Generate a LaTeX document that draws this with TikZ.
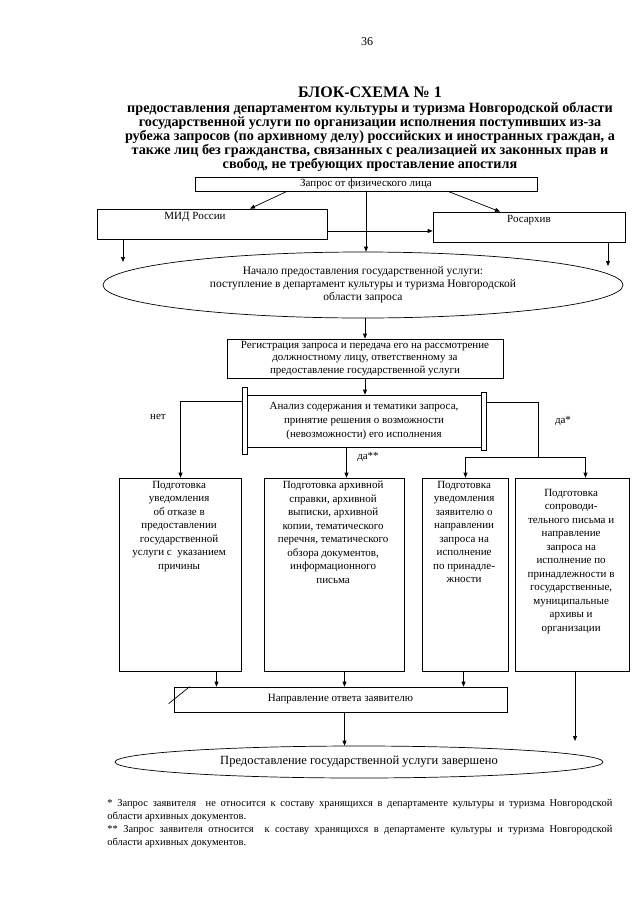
\documentclass[tikz,border=0pt]{standalone}
\usepackage{fontspec}
\setmainfont{Liberation Serif}
\usetikzlibrary{shapes.geometric,arrows.meta,positioning}
\newcommand{\topbox}[3]{\parbox[t][#2][t]{#1}{\centering\vspace*{3pt}#3}}

\begin{document}
\begin{tikzpicture}
    [
      x=1pt,
      y=-1pt,
      line width=0.7pt,
      >={Triangle[length=5pt,width=4pt]},
      blk/.style=
      {
        draw,
        inner sep=0pt,
        align=center,
        font=\fontsize{11}{13.5}\selectfont
      },
      txt/.style=
      {
        inner sep=0pt,
        align=center,
        font=\fontsize{11}{13.5}\selectfont
      },
      oval/.style=
      {
        draw,
        ellipse,
        inner sep=0pt,
        align=center,
        font=\fontsize{11.5}{13}\selectfont
      },
      sidebar/.style=
      {
        draw,
        fill=white,
        inner sep=0pt,
        minimum width=5pt
      },
      head/.style=
      {
        align=center,
        inner sep=0pt,
        font=\fontsize{14.2}{14}\selectfont\bfseries
      }
    ]
    \useasboundingbox (0,0) rectangle (640,905);

    %title here
    \node[txt, font=\fontsize{12}{14}\selectfont](PageNum) at (367,42) {36};
    \node[head, font=\fontsize{16}{16}\selectfont\bfseries](TheTitle) at (370,92) {БЛОК-СХЕМА № 1};
    \node[head, anchor=north](TheSubtitle) at (370,102)
    {
      предоставления департаментом культуры и туризма Новгородской области\\
      государственной услуги по организации исполнения поступивших из-за\\
      рубежа запросов (по архивному делу) российских и иностранных граждан, а\\
      также лиц без гражданства, связанных с реализацией их законных прав и\\
      свобод, не требующих проставление апостиля
    };

    %request
    \node[blk, minimum width=342pt, minimum height=14pt](Request) at (366,184)
    {Запрос от физического лица};
    \node[blk](Mid) at (212,224) {\topbox{230pt}{30pt}{МИД России\hspace*{34pt}}};
    \node[blk](Rosarkhiv) at (529,227) {\topbox{192pt}{30pt}{Росархив}};
    \node[oval, minimum width=520pt, minimum height=66pt](Start) at (363,285)
    {
      Начало предоставления государственной услуги:\\
      поступление в департамент культуры и туризма Новгородской\\
      области запроса
    };

    %registration and analysis
    \node[blk, minimum width=276pt, minimum height=39pt,
      font=\fontsize{11}{12.5}\selectfont](Reg) at (365,358.5)
    {
      Регистрация запроса и передача его на рассмотрение\\
      должностному лицу, ответственному за\\
      предоставление государственной услуги
    };
    \node[blk, minimum width=234pt, minimum height=52pt,
      font=\fontsize{11}{14}\selectfont](Analysis) at (364,421)
    {
      Анализ содержания и тематики запроса,\\
      принятие решения о возможности\\
      (невозможности) его исполнения
    };
    \node[sidebar, minimum height=67pt](LeftBar) at (244.5,420.5) {};
    \node[sidebar, minimum height=58pt](RightBar) at (484,421) {};
    \node[txt](No) at (158,417) {нет};
    \node[txt](YesOne) at (563,421) {да*};
    \node[txt](YesTwo) at (368,457) {да**};

    %four results
    \node[blk](Refusal) at (180.5,574.5)
    {
      \topbox{119pt}{193pt}
      {
        Подготовка\\ уведомления\\ об отказе в\\ предоставлении\\
        государственной\\ услуги с~ указанием\\ причины
      }
    };
    \node[blk](Certificate) at (334.5,574.5)
    {
      \topbox{137pt}{193pt}
      {
        Подготовка архивной\\ справки, архивной\\ выписки, архивной\\
        копии, тематического\\ перечня, тематического\\
        обзора документов,\\ информационного\\ письма
      }
    };
    \node[blk](Notice) at (465.5,574.5)
    {
      \topbox{83pt}{193pt}
      {
        Подготовка\\ уведомления\\ заявителю о\\ направлении\\
        запроса на\\ исполнение\\ по принадле-\\ жности
      }
    };
    \node[blk](Forward) at (572.5,574.5)
    {
      \topbox{111pt}{193pt}
      {
        \vspace*{8pt}Подготовка\\ сопроводи-\\ тельного письма и\\ направление\\
        запроса на\\ исполнение по\\ принадлежности в\\ государственные,\\
        муниципальные\\ архивы и\\ организации
      }
    };

    %answer and end
    \node[blk, minimum width=333pt, minimum height=25pt](Response) at (340.5,699.5)
    {Направление ответа заявителю};
    \node[oval, minimum width=488pt, minimum height=32pt,
      font=\fontsize{12.5}{14}\selectfont](End) at (359,762)
    {Предоставление государственной услуги завершено};

    \node[txt, anchor=north west, text width=505pt, align=justify,
      font=\fontsize{10.5}{13}\selectfont](Notes) at (107,799)
    {
      * Запрос заявителя\ \ не относится к составу хранящихся в департаменте
      культуры и туризма Новгородской\linebreak области архивных документов.\par
      ** Запрос заявителя относится\ \ к составу хранящихся в департаменте
      культуры и туризма Новгородской\linebreak области архивных документов.
    };

    %connectors
    \coordinate (MidEnd) at (123,262);
    \coordinate (RosEnd) at (608,266);
    \coordinate (Split) at (538,457);
    \coordinate (ForwardEnd) at (575,741);

    \draw[->] ([xshift=-79pt]Request.south) -- ([xshift=38pt]Mid.north);
    \draw[->] ([xshift=82pt]Request.south) -- ([xshift=-29pt]Rosarkhiv.north);
    \draw[->] (Request.south) -- (Request.south |- Start.north);
    \draw[->] ([yshift=-7pt]Mid.east) -- ([yshift=-7pt]Mid.east -| Rosarkhiv.west);
    \draw[->] (Mid.south -| MidEnd) -- (MidEnd);
    \draw[->] (Rosarkhiv.south -| RosEnd) -- (RosEnd);
    \draw[->] (Reg.north |- Start.south) -- (Reg.north);
    \draw[->] (Reg.south) -- (Reg.south |- Analysis.north);

    \draw[->] ([yshift=19pt]LeftBar.west) -| (Refusal.north);
    \draw[->] ([xshift=12pt]Certificate.north |- Analysis.south) -- ([xshift=12pt]Certificate.north);
    \draw ([yshift=19pt]RightBar.east) -| (Split);
    \draw[->] (Split) -| (Notice.north);
    \draw[->] (Split) -| ([xshift=13pt]Forward.north);

    \draw[->] ([xshift=36pt]Refusal.south) -- ([xshift=36pt]Refusal.south |- Response.north);
    \draw[->] ([xshift=10pt]Certificate.south) -- ([xshift=10pt]Certificate.south |- Response.north);
    \draw[->] ([xshift=-2pt]Notice.south) -- ([xshift=-2pt]Notice.south |- Response.north);
    \draw ([xshift=-5pt,yshift=-17pt]Response.north west) -- ([xshift=16pt]Response.north west);
    \draw[->] ([xshift=4pt]Response.south) -- ([xshift=4pt]Response.south |- End.north);
    \draw[->] (Forward.south -| ForwardEnd) -- (ForwardEnd);
  \end{tikzpicture}
\end{document}
